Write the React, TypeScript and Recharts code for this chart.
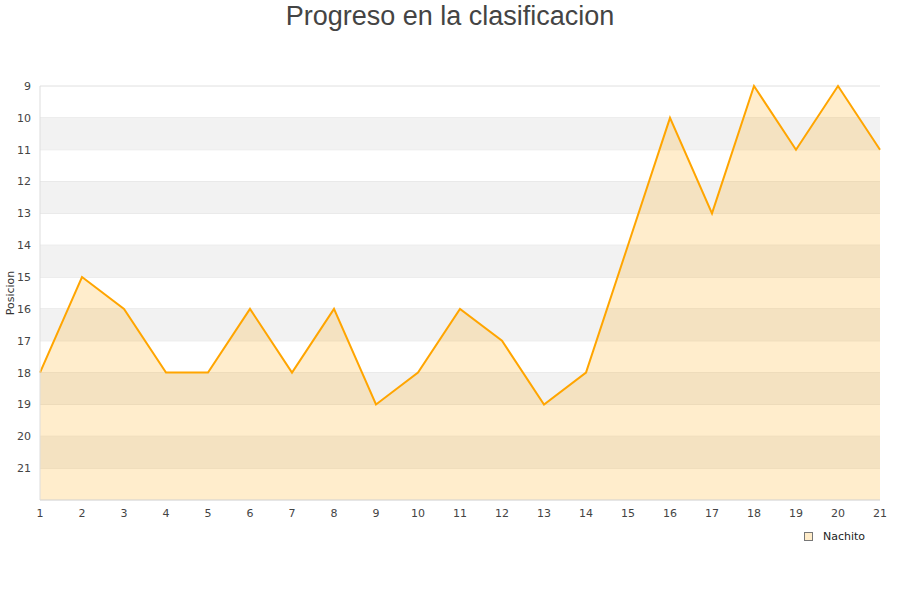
import React from "react";
import {
  AreaChart,
  Area,
  CartesianGrid,
  XAxis,
  YAxis,
  ReferenceArea,
} from "recharts";

// jornada numbers and position per jornada
const jornadas = [1, 2, 3, 4, 5, 6, 7, 8, 9, 10, 11, 12, 13, 14, 15, 16, 17, 18, 19, 20, 21];
const posiciones = [18, 15, 16, 18, 18, 16, 18, 16, 19, 18, 16, 17, 19, 18, 14, 10, 13, 9, 11, 9, 11];
const yTicks = [9, 10, 11, 12, 13, 14, 15, 16, 17, 18, 19, 20, 21];
// grey stripes (from, to)
const bandStarts = [10, 12, 14, 16, 18, 20];

const chartData = jornadas.map((j, i) => ({ jornada: j, Nachito: posiciones[i] }));

const font = "'DejaVu Sans', sans-serif";
const tickStyle = { fontSize: 11, fill: "#444", fontFamily: font };

const App: React.FC = () => {
  return (
    <div style={{ position: "absolute", left: 0, top: 0, width: 900, height: 600, background: "#fff" }}>
      <div
        style={{
          position: "absolute",
          left: 0,
          top: 0,
          width: 900,
          textAlign: "center",
          fontFamily: "'Liberation Sans', Arial, sans-serif",
          fontSize: 27,
          color: "#444",
          lineHeight: "32px",
        }}
      >
        Progreso en la clasificacion
      </div>
      <AreaChart
        width={900}
        height={600}
        data={chartData}
        margin={{ top: 86, right: 20, bottom: 70, left: 0 }}
      >
        {bandStarts.map((b) => (
          <ReferenceArea key={b} y1={b} y2={b + 1} fill="#f2f2f2" fillOpacity={1} stroke="none" />
        ))}
        <CartesianGrid vertical={false} stroke="#e0e0e0" />
        <XAxis
          dataKey="jornada"
          type="number"
          domain={[1, 21]}
          ticks={jornadas}
          interval={0}
          height={30}
          tickSize={0}
          tickMargin={9}
          tick={tickStyle}
          axisLine={{ stroke: "#ddd" }}
        />
        <YAxis
          type="number"
          reversed
          domain={[9, 22]}
          ticks={yTicks}
          interval={0}
          width={40}
          tickSize={0}
          tickMargin={9}
          tick={tickStyle}
          axisLine={{ stroke: "#ddd" }}
          label={{
            value: "Posicion",
            angle: -90,
            position: "insideLeft",
            offset: 10,
            style: { fontSize: 11, fill: "#333", fontFamily: font, textAnchor: "middle" },
          }}
        />
        <YAxis
          yAxisId="right"
          orientation="right"
          width={0}
          tick={false}
          tickLine={false}
          axisLine={{ stroke: "#ddd" }}
        />
        <Area
          type="linear"
          dataKey="Nachito"
          stroke="#FFA500"
          strokeWidth={2}
          fill="#FFA500"
          fillOpacity={0.2}
          baseValue="dataMax"
          dot={false}
          activeDot={false}
          isAnimationActive={false}
        />
      </AreaChart>
      <div
        style={{
          position: "absolute",
          left: 804,
          top: 530,
          display: "flex",
          alignItems: "center",
          fontFamily: font,
          fontSize: 11,
          color: "#222",
        }}
      >
        <svg width={10} height={10} style={{ marginRight: 9 }}>
          <rect x={0.5} y={0.5} width={8} height={8} fill="#ffecc9" stroke="#777" />
        </svg>
        Nachito
      </div>
    </div>
  );
};

export default App;
